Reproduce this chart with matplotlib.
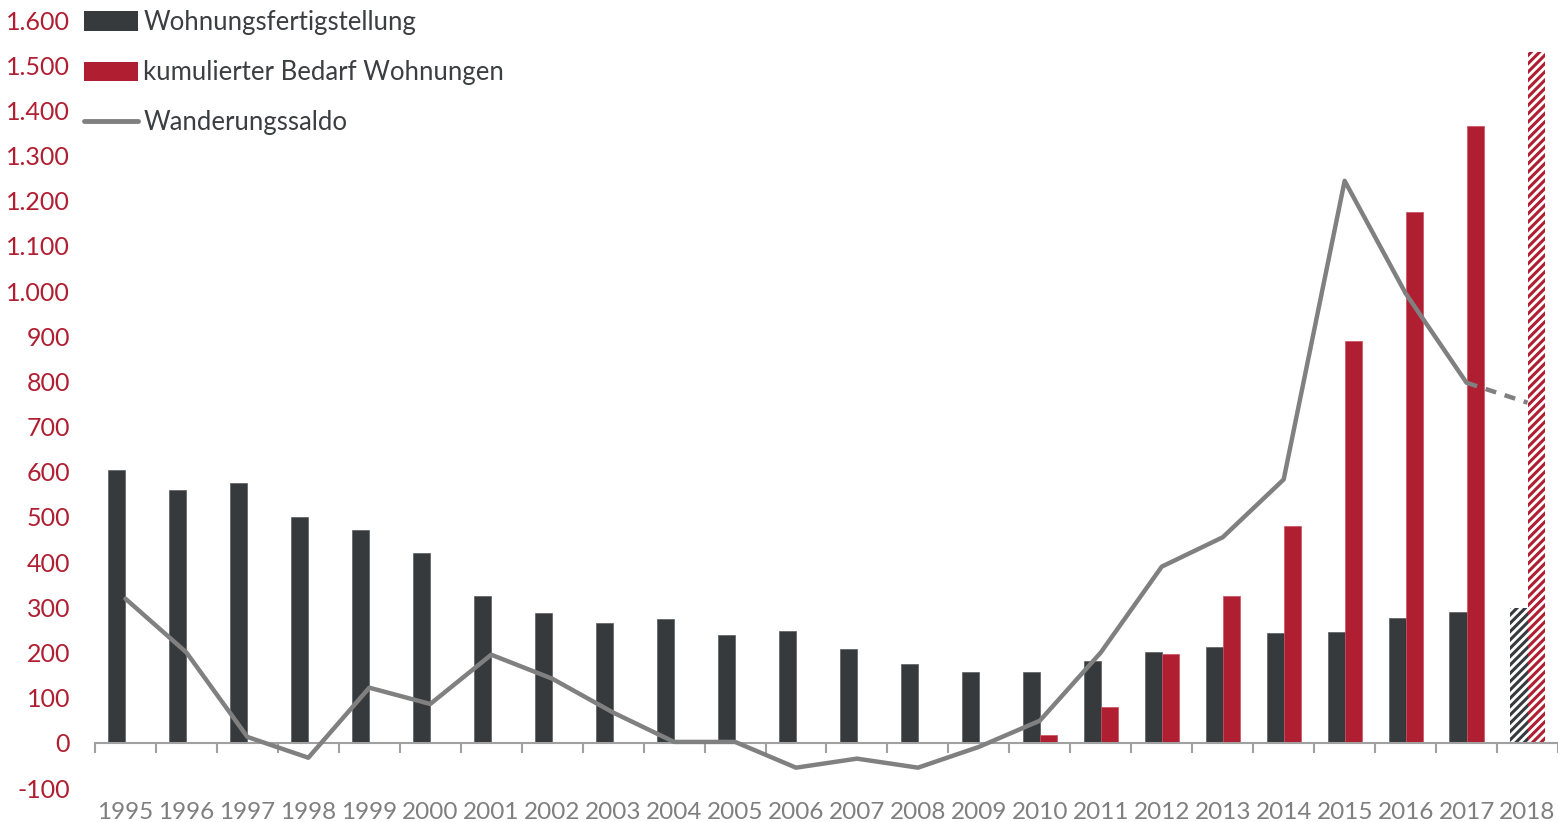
import numpy as np
import matplotlib.pyplot as plt
from matplotlib.ticker import FuncFormatter
from matplotlib.patches import Patch
from matplotlib.lines import Line2D

plt.rcParams['font.family'] = ['Lato', 'DejaVu Sans']
plt.rcParams['hatch.linewidth'] = 2.2

# data
years = [str(y) for y in range(1995, 2019)]
fertigstellung = [603, 559, 576, 499, 470, 421, 326, 288, 266, 275, 239, 248,
                  208, 175, 157, 157, 182, 200, 213, 244, 246, 276, 289, 299]
bedarf = [0, 0, 0, 0, 0, 0, 0, 0, 0, 0, 0, 0,
          0, 0, 0, 18, 80, 197, 326, 479, 889, 1175, 1366, 1530]
wanderung = [319, 200, 13, -33, 122, 86, 195, 142, 67, 2, 2, -55,
             -35, -55, -9, 49, 200, 390, 455, 583, 1244, 995, 797, 753]
yticks = list(range(-100, 1700, 100))

dark = '#363A3D'
red = '#B01E31'
gray = '#808080'

fig = plt.figure(figsize=(15.58, 8.22), dpi=100)
ax = fig.add_axes([95 / 1558, 1 - 788 / 822, 1 - 95 / 1558, (788 - 20) / 822])

x = np.arange(len(years))
w = 0.28
n = len(years) - 1  # last year is a forecast -> hatched

ax.bar(x[:n] - w / 2, fertigstellung[:n], w, color=dark, edgecolor='#5a5e61', linewidth=0.5, zorder=2)
red_vals = np.array(bedarf[:n])
mask = red_vals > 0
ax.bar(x[:n][mask] + w / 2, red_vals[mask], w, color=red, edgecolor='#c9505f', linewidth=0.5, zorder=2)
ax.bar(x[n] - w / 2, fertigstellung[n], w, color='white', edgecolor=dark, hatch='////', linewidth=0, zorder=2)
ax.bar(x[n] + w / 2, bedarf[n], w, color='white', edgecolor=red, hatch='////', linewidth=0, zorder=2)

ax.plot(x[:n], wanderung[:n], color=gray, lw=3.2, solid_capstyle='round', solid_joinstyle='round', zorder=3)
ax.plot(x[n - 1:], wanderung[n - 1:], color=gray, lw=3.2, ls=(0, (2.5, 2)), zorder=3)

ax.set_xlim(-0.5, len(years) - 0.5)
ax.set_ylim(-100, 1600)
ax.set_yticks(yticks)
ax.yaxis.set_major_formatter(FuncFormatter(lambda v, p: f'{int(v):,}'.replace(',', '.')))
ax.tick_params(axis='y', length=0, pad=18, labelsize=18, labelcolor=red)

for s in ['top', 'right', 'left']:
    ax.spines[s].set_visible(False)
ax.spines['bottom'].set_position(('data', 0))
ax.spines['bottom'].set_color('#a0a0a0')
ax.spines['bottom'].set_linewidth(1.5)
ax.set_xticks(np.arange(-0.5, len(years), 1.0))
ax.set_xticklabels([])
ax.tick_params(axis='x', direction='out', length=7, width=1.5, color='#a0a0a0')

sec = ax.secondary_xaxis('bottom')
sec.set_xticks(x)
sec.set_xticklabels(years)
sec.tick_params(length=0, pad=10, labelsize=17.5, labelcolor='#7f7f7f')
sec.spines['bottom'].set_visible(False)

handles = [Patch(facecolor=dark, label='Wohnungsfertigstellung'),
           Patch(facecolor=red, label='kumulierter Bedarf Wohnungen'),
           Line2D([], [], color=gray, lw=3.5, solid_capstyle='round', label='Wanderungssaldo')]
leg = fig.legend(handles=handles, loc='upper left', bbox_to_anchor=(61 / 1558, 1.0 + 13 / 822),
                 frameon=False, fontsize=18.5, handlelength=2.1, handleheight=0.8,
                 handletextpad=0.2, labelspacing=0.98, labelcolor='#3c3f42')

fig.savefig('out.png', dpi=100)
